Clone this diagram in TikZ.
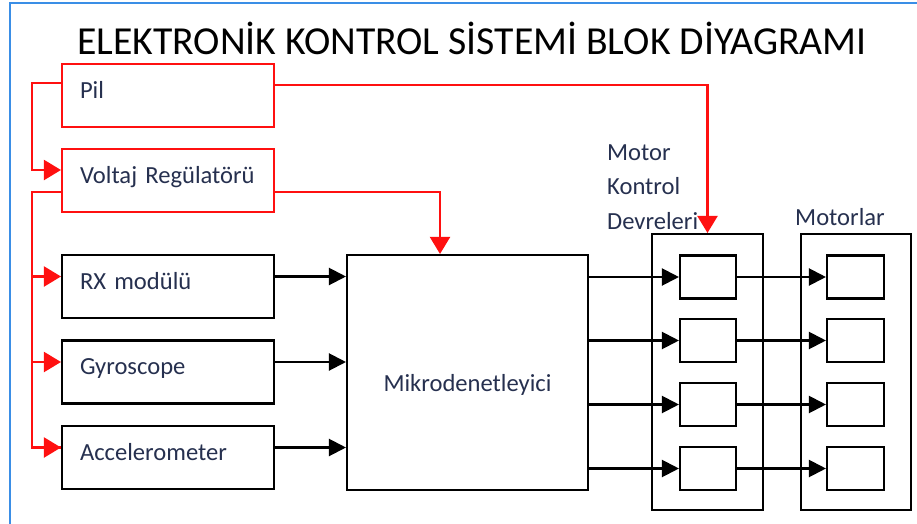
\documentclass[tikz,border=0pt]{standalone}
\definecolor{PowerRed}{HTML}{FF1010}
\definecolor{LabelInk}{HTML}{26304F}
\definecolor{FrameBlue}{HTML}{3A8EE6}
\usepackage{fontspec}
\setmainfont{Carlito}
\usetikzlibrary{arrows.meta,positioning,calc}
\tikzset{
    % red boxes of the supply side
    powerbox/.style={
        rectangle,
        draw=PowerRed,
        fill=white,
        line width=1.2pt,
        minimum width=4.24cm,
        minimum height=1.26cm,
        text width=3.52cm,
        inner xsep=0.36cm,
        text height=0.35cm,
        text depth=0.25cm,
        align=left,
        text=LabelInk,
        font=\fontsize{14}{16}\selectfont
    },
    sensorbox/.style={
        powerbox,
        draw=black
    },
    cellbox/.style={
        rectangle,
        draw=black,
        line width=1.2pt,
        minimum width=1.12cm,
        minimum height=0.86cm
    },
    framebox/.style={
        rectangle,
        draw=black,
        line width=1.2pt,
        minimum width=2.21cm,
        minimum height=5.52cm
    },
    sigarrow/.style={
        -{Triangle[length=0.34cm,width=0.34cm]},
        line width=1.2pt,
        color=black
    },
    pwrarrow/.style={
        -{Triangle[length=0.34cm,width=0.4cm]},
        line width=1.2pt,
        color=PowerRed
    },
    pwrline/.style={
        line width=1.2pt,
        color=PowerRed
    }
}
\begin{document}
\begin{tikzpicture}[x=0.02cm,y=-0.02cm]
    \useasboundingbox (0,0) rectangle (917,524);
    % screenshot frame
    \draw[FrameBlue,line width=0.8pt] (917,3) -- (10,3) -- (10,524);

    \node[font=\fontsize{22.6}{26}\selectfont] (title) at (472,38) {ELEKTRONİK KONTROL SİSTEMİ BLOK DİYAGRAMI};

    \node[powerbox] (pil) at (168,95.5) {Pil};
    \node[powerbox] (volt) at (168,180.5) {Voltaj Regülatörü};
    \node[sensorbox] (rx) at (168,286.5) {RX modülü};
    \node[sensorbox] (gyro) at (168,372) {Gyroscope};
    \node[sensorbox] (acc) at (168,457.5) {Accelerometer};

    \node[rectangle, draw=black, line width=1.2pt, minimum width=4.82cm, minimum height=4.7cm,
          text height=0.76cm, text depth=0cm,
          text=LabelInk, font=\fontsize{14}{16}\selectfont] (mcu) at (467.5,372.5) {Mikrodenetleyici};

    \node[framebox] (mkframe) at (707.5,372) {};
    \node[framebox] (motframe) at (856,372) {};

    \node[anchor=west, align=left, text=LabelInk, font=\fontsize{14}{19.8}\selectfont] (mklabel) at (601,187) {Motor\\Kontrol\\Devreleri};
    \node[text=LabelInk, font=\fontsize{14}{16}\selectfont] (motlabel) at (840,217) {Motorlar};

    \foreach \i/\y in {1/277,2/340.5,3/404.5,4/468.5} {
        \node[cellbox] (mk\i) at (708,\y) {};
        \node[cellbox, minimum width=1.14cm] (mot\i) at (855.5,\y) {};
        \draw[sigarrow] (mcu.east |- mk\i) -- (mk\i.west);
        \draw[sigarrow] (mk\i.east) -- (mot\i.west);
    }

    % Sensor signals
    \foreach \s in {rx,gyro,acc} {
        \path ([yshift=0.2cm]\s.east) coordinate (\s out);
        \draw[sigarrow] (\s out) -- (\s out -| mcu.west);
    }

    % Power lines
    \draw[pwrarrow] ([yshift=0.25cm]pil.west) -- ++(-29,0) |- ([yshift=0.21cm]volt.west);
    \draw[pwrline] ([yshift=-0.23cm]volt.west) -- ++(-29,0) coordinate (bus) |- ([yshift=0.2cm]acc.west);
    \foreach \s in {rx,gyro,acc} {
        \path ([yshift=0.2cm]\s.west) coordinate (\s in);
        \draw[pwrarrow] (bus |- \s in) -- (\s in);
    }
    \draw[pwrarrow] ([yshift=0.21cm]pil.east) -| (mkframe.north);
    \draw[pwrarrow] ([yshift=-0.23cm]volt.east) -| ([xshift=-0.55cm]mcu.north);
\end{tikzpicture}
\end{document}
